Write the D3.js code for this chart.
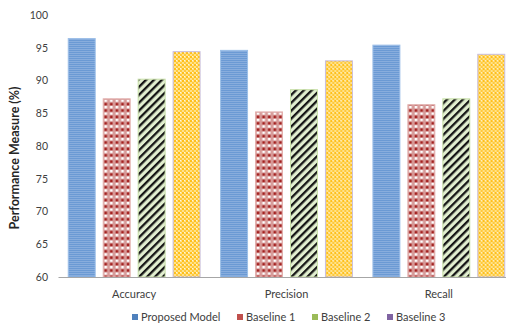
<!DOCTYPE html>
<html>
<head>
<meta charset="utf-8">
<script src="https://cdn.jsdelivr.net/npm/d3@7"></script>
<style>
  html, body { margin: 0; padding: 0; background: #fff; }
  svg { display: block; font-family: Lato, "Open Sans", sans-serif; }
</style>
</head>
<body>
<svg id="chart" width="506" height="327"></svg>
<script>
// Metrics on the x axis
const categories = ["Accuracy", "Precision", "Recall"];
// Series names in legend order
const seriesNames = ["Proposed Model", "Baseline 1", "Baseline 2", "Baseline 3"];
// Values per series, one per metric (%)
const proposedModel = [96.4, 94.6, 95.4];
const baseline1 = [87.2, 85.2, 86.3];
const baseline2 = [90.2, 88.6, 87.2];
const baseline3 = [94.4, 93.0, 94.0];
// Y axis ticks
const yTicks = [60, 65, 70, 75, 80, 85, 90, 95, 100];

const seriesValues = [proposedModel, baseline1, baseline2, baseline3];

const svg = d3.select("#chart");
const plotTop = 15, plotBottom = 277;

// Pattern fills for each series
const defs = svg.append("defs");

// Proposed: blue with fine horizontal light lines
const pBlue = defs.append("pattern").attr("id", "pat0").attr("patternUnits", "userSpaceOnUse")
  .attr("width", 6).attr("height", 2);
pBlue.append("rect").attr("width", 6).attr("height", 2).attr("fill", "#6b9ad4");
pBlue.append("rect").attr("y", 1.2).attr("width", 6).attr("height", 0.8).attr("fill", "#8fb2e0");

// Baseline 1: red check grid
const pRed = defs.append("pattern").attr("id", "pat1").attr("patternUnits", "userSpaceOnUse")
  .attr("width", 5.6).attr("height", 6.4);
pRed.append("rect").attr("width", 5.6).attr("height", 6.4).attr("fill", "#d79a98");
pRed.append("rect").attr("x", 1.6).attr("y", 0.4).attr("width", 2.6).attr("height", 2.6).attr("fill", "#a3201f");
pRed.append("rect").attr("x", 1.6).attr("y", 3.6).attr("width", 2.6).attr("height", 2.4).attr("fill", "#ffffff");

// Baseline 2: black diagonal stripes on pale green
const pGreen = defs.append("pattern").attr("id", "pat2").attr("patternUnits", "userSpaceOnUse")
  .attr("width", 5.6).attr("height", 5.6).attr("patternTransform", "rotate(45)");
pGreen.append("rect").attr("width", 5.6).attr("height", 5.6).attr("fill", "#e2efd0");
pGreen.append("rect").attr("width", 2.3).attr("height", 5.6).attr("fill", "#151515");

// Baseline 3: yellow/orange speckle
const pGold = defs.append("pattern").attr("id", "pat3").attr("patternUnits", "userSpaceOnUse")
  .attr("width", 4).attr("height", 4);
pGold.append("rect").attr("width", 4).attr("height", 4).attr("fill", "#ffe28a");
pGold.append("rect").attr("x", 0).attr("y", 0).attr("width", 2).attr("height", 2).attr("fill", "#ffbf1a");
pGold.append("rect").attr("x", 2).attr("y", 2).attr("width", 2).attr("height", 2).attr("fill", "#ffc93a");
pGold.append("rect").attr("x", 2).attr("y", 0).attr("width", 1).attr("height", 1).attr("fill", "#fff6dc");

const fills = ["url(#pat0)", "url(#pat1)", "url(#pat2)", "url(#pat3)"];
const strokes = ["#9cbfe8", "#e2b0ae", "#c8e0a8", "#c7bde0"];
const legendColors = ["#4f81bd", "#c0504d", "#9bbb59", "#8064a2"];

// Scales
const x0 = d3.scaleBand().domain(categories).range([58, 515]).paddingInner(0).paddingOuter(0);
const x1 = d3.scaleBand().domain(d3.range(seriesNames.length)).range([0, x0.bandwidth()])
  .paddingInner(0.2).paddingOuter(0.279);
const y = d3.scaleLinear().domain([60, 100]).range([plotBottom, plotTop]);

// Bars
const groups = svg.append("g").selectAll("g").data(categories).join("g")
  .attr("transform", d => `translate(${x0(d)},0)`);
groups.selectAll("rect")
  .data((c, ci) => seriesValues.map((vals, si) => ({ si, v: vals[ci] })))
  .join("rect")
  .attr("x", d => x1(d.si) + 0.5)
  .attr("y", d => y(d.v))
  .attr("width", x1.bandwidth() - 1)
  .attr("height", d => y(60) - y(d.v))
  .attr("fill", d => fills[d.si])
  .attr("stroke", d => strokes[d.si])
  .attr("stroke-width", 1);

// Y axis (labels only)
const yAxis = d3.axisLeft(y).tickValues(yTicks).tickSize(0).tickPadding(0);
const yG = svg.append("g").attr("transform", "translate(48,0)").call(yAxis);
yG.select(".domain").remove();
yG.selectAll("text").attr("fill", "#404040").style("font-size", "10.5px")
  .style("font-family", "Lato, sans-serif");

// X axis baseline and category labels
const xAxis = d3.axisBottom(x0).tickSize(0).tickPadding(13);
const xG = svg.append("g").attr("transform", `translate(0,${plotBottom})`).call(xAxis);
xG.select(".domain").attr("stroke", "#a6a6a6").attr("stroke-width", 1);
xG.selectAll("text").attr("fill", "#404040").style("font-size", "11px")
  .style("font-family", "Lato, sans-serif");

// Y axis title
svg.append("text")
  .attr("transform", "translate(19,158) rotate(-90)")
  .attr("text-anchor", "middle")
  .attr("fill", "#262626")
  .style("font-size", "12.5px")
  .style("font-weight", "bold")
  .text("Performance Measure (%)");

// Legend
const legendX = [132, 237, 312, 387];
const legend = svg.append("g").selectAll("g").data(seriesNames).join("g")
  .attr("transform", (d, i) => `translate(${legendX[i]},317)`);
legend.append("rect").attr("x", 0).attr("y", -3).attr("width", 6).attr("height", 6)
  .attr("fill", (d, i) => legendColors[i]);
legend.append("text").attr("x", 9).attr("y", 0).attr("dy", "0.35em")
  .attr("fill", "#404040").style("font-size", "11px")
  .text(d => d);
</script>
</body>
</html>
